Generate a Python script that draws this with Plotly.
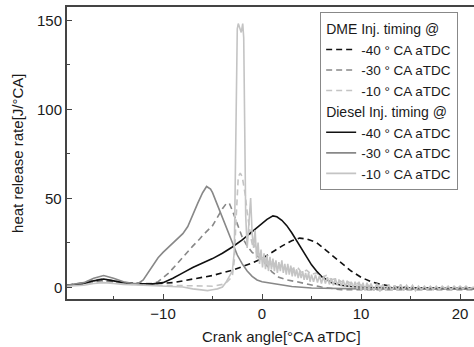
import plotly.graph_objects as go

# ---------------- data (crank angle [deg CA aTDC], heat release rate [J/deg CA]) -------------
DME_M40 = [(-19.7, 1.0), (-18, 2.0), (-17, 3.0), (-16, 3.5), (-15, 3.0), (-14, 2.5), (-13, 2.0),
           (-12, 1.8), (-11, 1.8), (-10, 2.0), (-9, 2.5), (-8, 3.5), (-7, 4.5), (-6, 5.5), (-5, 6.5),
           (-4, 8.0), (-3, 9.5), (-2, 11.5), (-1, 13.5), (0, 16.0), (1, 19.5), (2, 23.0), (3, 26.0),
           (3.8, 27.5), (4.5, 27.0), (5.5, 25.0), (6.5, 20.5), (7.5, 16.0), (8, 13.5), (9, 9.0),
           (10, 5.5), (11, 3.0), (12, 1.5), (13, 0.5), (15, -0.5), (18, -1.0), (21.4, -1.0)]

DME_M30 = [(-19.7, 1.0), (-18, 2.5), (-17, 4.0), (-16, 4.5), (-15, 3.5), (-14, 2.5), (-13, 2.0),
           (-12, 1.8), (-11, 2.0), (-10.5, 3.0), (-10, 5.0), (-9.5, 7.5), (-9, 10.5), (-8, 17.0),
           (-7, 23.0), (-6.3, 27.0), (-6, 29.0), (-5, 34.5), (-4.8, 36.5), (-4, 44.0), (-3.6, 47.0),
           (-3.3, 47.0), (-3, 43.0), (-2.5, 35.0), (-2, 28.0), (-1.5, 23.0), (-1, 19.5), (-0.5, 17.5),
           (0, 15.5), (0.5, 12.0), (1, 8.5), (1.7, 5.5), (2.5, 4.0), (3.5, 3.0), (5, 1.0), (6, 0.0),
           (8, -1.5), (10, -1.5), (14, -1.5), (21.4, -1.5)]

DME_M10 = [(-19.7, 1.0), (-17, 2.5), (-16, 3.0), (-15, 2.5), (-13, 1.5), (-10, 1.0), (-7, 0.5),
           (-5, 0.5), (-4, 1.5), (-3.5, 3.0), (-3.0, 6.0), (-2.8, 15.0), (-2.65, 35.0), (-2.5, 55.0),
           (-2.4, 62.0), (-2.2, 64.0), (-2.0, 62.0), (-1.85, 57.0), (-1.7, 52.0), (-1.5, 42.0),
           (-1.3, 34.0), (-1.1, 27.0), (-0.9, 22.0), (-0.7, 24.0), (-0.5, 18.0), (-0.3, 20.0),
           (-0.1, 15.0), (0.2, 17.0), (0.5, 13.0), (0.8, 15.0), (1.1, 12.0), (1.4, 14.0), (1.7, 11.0),
           (2.0, 13.0), (2.4, 10.0), (2.8, 12.0), (3.2, 9.0), (3.6, 11.0), (4.0, 8.0), (4.5, 9.5),
           (5.0, 7.0), (5.5, 8.0), (6.0, 5.5), (6.5, 6.5), (7.0, 4.0), (7.5, 5.0), (8.0, 3.0),
           (8.5, 3.5), (9.0, 2.0), (9.5, 2.5), (10, 1.0), (10.5, 1.5), (11, 0.5), (12, 0.5), (13, 0.0),
           (14, 0.0), (15, -0.5), (17, -0.5), (19, -0.5), (21.4, -0.5)]

DIESEL_M40 = [(-19.7, 1.0), (-18, 2.0), (-17, 3.5), (-16, 4.5), (-15, 3.5), (-14, 2.5), (-13, 2.0),
              (-12, 1.8), (-11, 1.8), (-10, 2.5), (-9, 5.0), (-8, 8.0), (-7, 11.0), (-6, 13.5),
              (-5, 16.0), (-4, 19.0), (-3, 22.5), (-2, 26.5), (-1, 31.0), (0, 35.5), (0.5, 38.0),
              (1.1, 40.0), (1.5, 39.5), (2, 37.5), (2.5, 34.5), (3, 30.5), (3.5, 26.0), (4, 21.0),
              (4.5, 16.5), (5, 12.5), (5.5, 9.0), (6, 6.0), (7, 2.5), (8, 1.0), (9, 0.3), (10, 0.0),
              (12, -0.5), (15, -0.5), (18, -0.5), (21.4, -0.5)]

DIESEL_M30 = [(-19.7, 1.0), (-18, 2.5), (-17, 5.0), (-16, 6.5), (-15, 5.0), (-14, 3.0), (-13, 2.0),
              (-12.5, 2.0), (-12, 4.0), (-11.5, 8.0), (-11, 12.5), (-10.5, 16.5), (-10, 19.5),
              (-9.5, 22.0), (-9, 24.5), (-8.5, 27.0), (-8, 30.0), (-7.5, 34.0), (-7, 40.0),
              (-6.5, 47.0), (-6, 53.0), (-5.6, 56.5), (-5.2, 55.0), (-5, 53.0), (-4.5, 46.0),
              (-4, 39.0), (-3.5, 32.0), (-3, 25.0), (-2.5, 18.0), (-2, 13.0), (-1.5, 9.0), (-1, 6.0),
              (-0.5, 4.0), (0, 3.0), (1, 2.0), (2, 1.0), (3, 0.3), (5, -0.5), (8, -1.0), (10, -1.0),
              (15, -1.2), (21.4, -1.2)]

DIESEL_M10 = [(-19.7, 0.5), (-18, 1.0), (-17, 2.0), (-16, 2.5), (-15, 2.0), (-14, 1.5), (-12, 1.0),
              (-10, 0.5), (-8, 0.0), (-7, -1.0), (-6, -1.5), (-5.5, -2.0), (-5, -1.5), (-4.5, -1.0),
              (-4, 0.0), (-3.6, 3.0), (-3.3, 6.0), (-3.0, 9.0), (-2.8, 20.0), (-2.7, 60.0),
              (-2.6, 110.0), (-2.5, 145.0), (-2.4, 148.0), (-2.25, 146.0), (-2.1, 143.0),
              (-1.95, 148.0), (-1.85, 140.0), (-1.75, 90.0), (-1.65, 40.0), (-1.5, 22.0),
              (-1.3, 38.0), (-1.15, 50.0), (-1.0, 30.0), (-0.85, 22.0), (-0.7, 32.0), (-0.55, 16.0),
              (-0.4, 25.0), (-0.25, 13.0), (-0.1, 21.0), (0.05, 11.0), (0.2, 19.0), (0.35, 10.0),
              (0.5, 18.0), (0.65, 9.0), (0.8, 17.0), (0.95, 10.0), (1.1, 16.0), (1.25, 9.0),
              (1.4, 15.0), (1.55, 8.0), (1.7, 14.0), (1.85, 9.0), (2.0, 15.0), (2.15, 8.0),
              (2.3, 13.0), (2.45, 7.0), (2.6, 13.0), (2.75, 7.0), (2.9, 12.0), (3.05, 6.0),
              (3.2, 11.0), (3.35, 6.0), (3.5, 10.0), (3.65, 5.0), (3.8, 9.0), (3.95, 5.0), (4.1, 9.0),
              (4.25, 4.0), (4.4, 8.0), (4.55, 4.0), (4.7, 8.0), (4.85, 3.0), (5.0, 7.0), (5.2, 3.0),
              (5.4, 7.0), (5.6, 2.5), (5.8, 6.5), (6.0, 2.0), (6.2, 6.0), (6.4, 2.0), (6.6, 5.5),
              (6.8, 1.5), (7.0, 5.0), (7.2, 1.0), (7.4, 5.0), (7.6, 1.0), (7.8, 4.0), (8.0, 0.5),
              (8.2, 4.0), (8.4, 0.0), (8.6, 3.5), (8.8, 0.0), (9.0, 3.0), (9.2, -0.5), (9.4, 3.0),
              (9.6, -1.0), (9.8, 3.0), (10.0, -1.5), (10.2, 2.5), (10.4, -2.0), (10.6, 2.5),
              (10.8, -2.0), (11.0, 2.0), (11.3, -2.0), (11.6, 2.0), (11.9, -2.5), (12.2, 1.5),
              (12.5, -2.0), (12.8, 1.5), (13.1, -2.0), (13.4, 1.0), (13.7, -2.0), (14.0, 1.5),
              (14.3, -2.0), (14.6, 1.0), (14.9, -1.5), (15.2, 1.0), (15.5, -2.0), (15.8, 0.5),
              (16.1, -1.5), (16.4, 0.5), (16.7, -1.5), (17.0, 0.5), (17.3, -1.5), (17.6, 0.5),
              (17.9, -1.5), (18.2, 0.5), (18.5, -1.0), (18.8, 0.5), (19.1, -1.5), (19.4, 0.5),
              (19.7, -1.0), (20.0, 0.5), (20.3, -1.0), (20.6, 0.5), (20.9, -1.0), (21.4, 0.0)]

LEGEND_NAMES = ["-40 ° CA aTDC", "-30 ° CA aTDC", "-10 ° CA aTDC"]
GROUP_TITLES = ["DME Inj. timing @", "Diesel Inj. timing @"]
X_TICKS = [-10, 0, 10, 20]
Y_TICKS = [0, 50, 100, 150]

FONT = "Liberation Sans, Arial, sans-serif"
COLORS = ["#111111", "#888888", "#c4c4c4"]

fig = go.Figure()

series = [
    (DME_M40, 0, "dme", "6px,4px"),
    (DME_M30, 1, "dme", "6px,4px"),
    (DME_M10, 2, "dme", "6px,4px"),
    (DIESEL_M40, 0, "diesel", "solid"),
    (DIESEL_M30, 1, "diesel", "solid"),
    (DIESEL_M10, 2, "diesel", "solid"),
]
for data, idx, grp, dash in series:
    xs = [p[0] for p in data]
    ys = [p[1] for p in data]
    gtitle = GROUP_TITLES[0] if grp == "dme" else GROUP_TITLES[1]
    fig.add_trace(go.Scatter(
        x=xs, y=ys, mode="lines", name=LEGEND_NAMES[idx],
        line=dict(color=COLORS[idx], width=1.6, dash=dash),
        legendgroup=grp,
        legendgrouptitle=dict(text=gtitle, font=dict(size=14, color="#1a1a1a", family=FONT)),
    ))

# y tick labels placed via the y scale, just left of the axis line
y_label_annotations = [
    dict(text=str(v), xref="paper", yref="y", x=-0.007, y=v, xanchor="right",
         yanchor="middle", showarrow=False, font=dict(size=15))
    for v in Y_TICKS
]

fig.update_layout(
    width=474, height=347,
    margin=dict(l=67, r=0, t=7, b=48, autoexpand=False),
    paper_bgcolor="white", plot_bgcolor="white",
    font=dict(family=FONT, size=15, color="#1a1a1a"),
    showlegend=True,
    legend=dict(
        x=0.622, y=0.983, xanchor="left", yanchor="top",
        bgcolor="white", bordercolor="#888888", borderwidth=1,
        font=dict(size=13.5, family=FONT, color="#1a1a1a"),
        traceorder="grouped", tracegroupgap=0,
    ),
    xaxis=dict(
        range=[-19.7, 21.41], tickvals=X_TICKS, ticks="inside", ticklen=5,
        tickcolor="#444444", showline=True, linecolor="#444444", linewidth=1.5,
        mirror=True, showgrid=False, zeroline=False, automargin=False,
        minor=dict(ticks="inside", ticklen=3, dtick=5, tick0=0, tickcolor="#444444", showgrid=False),
        tickfont=dict(size=15), ticklabelstandoff=0,
    ),
    yaxis=dict(
        range=[-6.7, 157.3], tickvals=Y_TICKS, ticks="inside", ticklen=5,
        tickcolor="#444444", showline=True, linecolor="#444444", linewidth=1.5,
        mirror=False, showgrid=False, zeroline=False, automargin=False,
        showticklabels=False,
        minor=dict(ticks="inside", ticklen=3, dtick=25, tick0=0, tickcolor="#444444", showgrid=False),
    ),
    annotations=y_label_annotations + [
        dict(text="Crank angle[°CA aTDC]", xref="paper", yref="paper",
             x=0.528, y=-0.130, xanchor="center", yanchor="middle", showarrow=False,
             font=dict(size=15)),
        dict(text="heat release rate[J/°CA]", xref="paper", yref="paper",
             x=-0.123, y=0.5, xanchor="center", yanchor="middle", showarrow=False,
             textangle=-90, font=dict(size=15)),
    ],
)

fig.write_html(
    "out.html",
    config={"displayModeBar": False},
    post_script="document.body.style.margin='0';document.body.style.overflow='hidden';",
)
